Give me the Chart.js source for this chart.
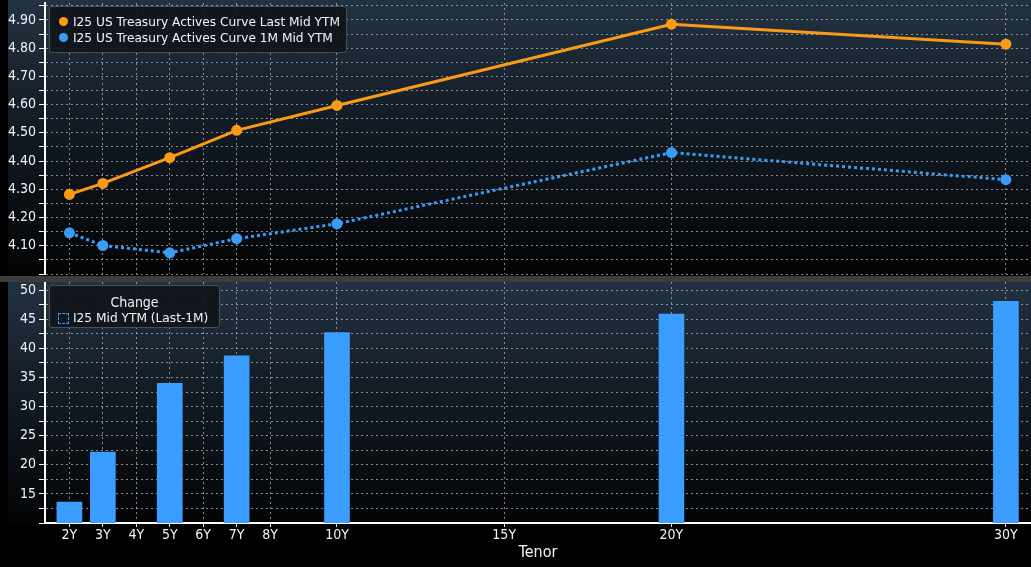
<!DOCTYPE html>
<html>
<head>
<meta charset="utf-8">
<script src="https://cdn.jsdelivr.net/npm/chart.js@4"></script>
<style>
  html, body { margin: 0; padding: 0; background: #000; }
  body { width: 1031px; height: 567px; position: relative; overflow: hidden;
         font-family: 'DejaVu Sans', sans-serif; color: #f0f4f7; }
  .panel { position: absolute; left: 0; width: 1031px; }
  #topWrap { top: 0; height: 275px; }
  #botWrap { top: 282px; height: 285px; }
  #sep { position: absolute; left: 0; top: 276px; width: 1031px; height: 6px; background: #3c3c3c; }
  .legend { position: absolute; left: 49px; background: rgba(16,21,26,0.92); border: 1px solid #4a4f55;
            border-radius: 3px; font-size: 12.2px; box-sizing: border-box; }
  .row { position: absolute; left: 23px; white-space: nowrap; line-height: 16px; }
  .dot { position: absolute; left: -14px; top: 3px; width: 9px; height: 9px; border-radius: 50%; }
</style>
</head>
<body>
<div class="panel" id="topWrap"><canvas id="curveChart"></canvas></div>
<div id="sep"></div>
<div class="panel" id="botWrap"><canvas id="changeChart"></canvas></div>

<div class="legend" style="top:6px;width:298px;height:47px;">
  <div class="row" style="top:7px;"><span class="dot" style="background:#fa9a16"></span>I25 US Treasury Actives Curve Last Mid YTM</div>
  <div class="row" style="top:23px;"><span class="dot" style="background:#3c9cf5"></span>I25 US Treasury Actives Curve 1M Mid YTM</div>
</div>
<div class="legend" style="top:285px;width:171px;height:43px;">
  <div style="position:absolute;left:0;width:100%;top:8px;text-align:center;line-height:16px;font-family:'DejaVu Sans Condensed','DejaVu Sans',sans-serif;font-size:14px;">Change</div>
  <div class="row" style="top:24px;"><span style="position:absolute;left:-15px;top:3px;width:9px;height:9px;border:1px dashed #3c9cf5;"></span>I25 Mid YTM (Last-1M)</div>
</div>

<script>
// tenor data (years)
const tenors = [2, 3, 5, 7, 10, 20, 30];
const lastYield = [4.282, 4.321, 4.412, 4.509, 4.597, 4.885, 4.814];
const monthAgoYield = [4.146, 4.101, 4.075, 4.125, 4.178, 4.430, 4.334];
const changeBp = [13.6, 22.2, 34.0, 38.7, 42.7, 45.9, 48.1];

// axis ticks
const tickTenors = [2, 3, 4, 5, 6, 7, 8, 10, 15, 20, 30];
const xMin = 1.27, xMax = 30.75;

const FONT = "'DejaVu Sans Condensed', 'DejaVu Sans', sans-serif";
const TEXT = "#f0f4f7";
const GRID = "rgba(190,190,190,0.7)";
const ORANGE = "#fa9a16";
const BLUE = "#3c9cf5";
const BAR = "#3b9dff";

// dark gradient behind each panel
const panelBg = {
  id: "panelBg",
  beforeDraw(chart) {
    const { ctx, chartArea } = chart;
    const g = ctx.createLinearGradient(0, 0, 0, chartArea.bottom);
    g.addColorStop(0, "#223242");
    g.addColorStop(0.5, "#111921");
    g.addColorStop(1, "#030405");
    ctx.save();
    ctx.fillStyle = g;
    ctx.fillRect(8, 0, chart.width - 8, chartArea.bottom);
    ctx.restore();
  }
};

function xAxis(showLabels) {
  return {
    type: "linear",
    min: xMin,
    max: xMax,
    offset: false,
    afterBuildTicks: (s) => { s.ticks = tickTenors.map(v => ({ value: v })); },
    afterFit: (s) => {
      s.height = showLabels ? 44 : 0;
      s.paddingLeft = 0; s.paddingRight = 0;
    },
    grid: { color: GRID, offset: false, drawTicks: showLabels, tickLength: 4, tickColor: "#ffffff" },
    border: { display: showLabels, color: "#ffffff", width: 2, dash: [2, 3] },
    ticks: {
      display: showLabels, color: TEXT, padding: 0, maxRotation: 0, autoSkip: false,
      font: { family: FONT, size: 14 },
      callback: (v) => v + "Y"
    },
    title: {
      display: showLabels, text: "Tenor", color: TEXT,
      font: { family: FONT, size: 16 }, padding: { top: 0, bottom: 5 }
    }
  };
}

function yAxis(min, max, step, labelStep, fmt) {
  return {
    min: min,
    max: max,
    afterFit: (s) => {
      s.width = 45;
      s.paddingTop = 0; s.paddingBottom = 0;
    },
    afterBuildTicks: (s) => {
      const out = [];
      for (let k = 0; min + k * step <= max + 1e-9; k++) out.push({ value: +(min + k * step).toFixed(4) });
      s.ticks = out;
    },
    grid: { color: GRID, tickLength: 6, tickColor: "#ffffff" },
    border: { color: "#ffffff", width: 2, dash: [2, 3] },
    ticks: {
      color: TEXT, padding: 3, autoSkip: false,
      font: { family: FONT, size: 14 },
      callback: (v) => {
        const k = v / labelStep;
        if (v <= min + 1e-6 || Math.abs(k - Math.round(k)) > 1e-6) return "";
        return fmt(v);
      }
    }
  };
}

new Chart(document.getElementById("curveChart"), {
  type: "line",
  data: {
    datasets: [
      {
        label: "I25 US Treasury Actives Curve Last Mid YTM",
        data: tenors.map((t, i) => ({ x: t, y: lastYield[i] })),
        borderColor: ORANGE, backgroundColor: ORANGE,
        borderWidth: 3, pointRadius: 4, tension: 0
      },
      {
        label: "I25 US Treasury Actives Curve 1M Mid YTM",
        data: tenors.map((t, i) => ({ x: t, y: monthAgoYield[i] })),
        borderColor: BLUE, backgroundColor: BLUE,
        borderWidth: 3, borderDash: [3, 3], pointRadius: 4, tension: 0
      }
    ]
  },
  options: {
    responsive: true, maintainAspectRatio: false, animation: false,
    layout: { autoPadding: false, padding: { top: 3, bottom: 1, left: 0, right: 0 } },
    plugins: { legend: { display: false }, tooltip: { enabled: false } },
    scales: {
      x: xAxis(false),
      y: yAxis(4.0, 4.96, 0.05, 0.1, (v) => v.toFixed(2))
    }
  },
  plugins: [panelBg]
});

new Chart(document.getElementById("changeChart"), {
  type: "bar",
  data: {
    datasets: [
      {
        label: "I25 Mid YTM (Last-1M)",
        data: tenors.map((t, i) => ({ x: t, y: changeBp[i] })),
        backgroundColor: BAR, barThickness: 25
      }
    ]
  },
  options: {
    responsive: true, maintainAspectRatio: false, animation: false,
    layout: { autoPadding: false, padding: 0 },
    plugins: { legend: { display: false }, tooltip: { enabled: false } },
    scales: {
      x: xAxis(true),
      y: yAxis(10, 51.4, 2.5, 5, (v) => String(Math.round(v)))
    }
  },
  plugins: [panelBg]
});
</script>
</body>
</html>
